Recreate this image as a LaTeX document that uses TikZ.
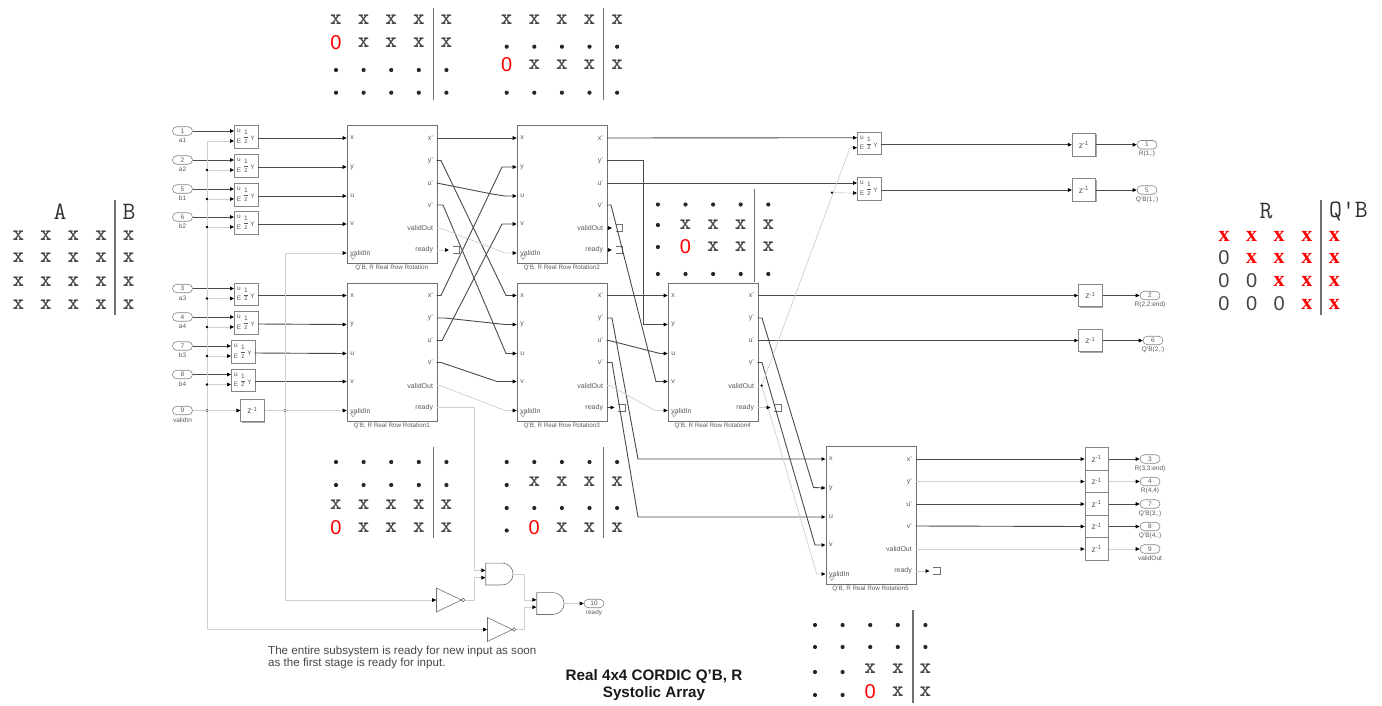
\documentclass[tikz,border=0pt]{standalone}
\usepackage{fontspec}
\setmainfont{Liberation Sans}
\setsansfont{Liberation Sans}
\newfontfamily\redxfont{Liberation Serif}
\usetikzlibrary{arrows.meta,shapes.gates.logic.US,shapes.misc,calc}
\definecolor{wiredark}{HTML}{4A4A4A}
\definecolor{wirelite}{HTML}{CFCFCF}
\definecolor{boxedge}{HTML}{707070}
\definecolor{labelgray}{HTML}{5A5A5A}
\definecolor{zerogray}{HTML}{444444}
\newcounter{cellno}
\tikzset{
  wire/.style={draw=wiredark,line width=.9pt},
  lite/.style={draw=wirelite,line width=.7pt},
  rotbox/.style={draw=boxedge,fill=white,line width=1.2pt,minimum width=90pt,minimum height=138pt,inner sep=0pt},
  smallbox/.style={draw=boxedge!85,fill=white,line width=.7pt,minimum width=23.5pt,minimum height=22.5pt,inner sep=0pt},
  boxshadow/.style={fill=black!35},
  portl/.style={font=\fontsize{7}{8}\selectfont,text=labelgray,inner sep=0pt,anchor=west},
  portr/.style={font=\fontsize{7}{8}\selectfont,text=labelgray,inner sep=0pt,anchor=east},
  caplab/.style={font=\fontsize{6.3}{7}\selectfont,text=labelgray,inner sep=0pt},
  tiny/.style={font=\fontsize{6.5}{7}\selectfont,text=labelgray,inner sep=0pt},
  pill/.style={rounded rectangle,draw=boxedge!85,fill=white,line width=.6pt,minimum width=20pt,minimum height=8.5pt,inner sep=0pt,font=\fontsize{6.5}{7}\selectfont,text=labelgray},
  jdot/.style={circle,fill=black,inner sep=0pt,minimum size=2.6pt},
  celldot/.style={circle,fill=black!85,inner sep=0pt,minimum size=4.2pt},
  mx/.style={inner sep=0pt,font=\fontsize{22}{22}\ttfamily\bfseries,text=black!72},
  hd/.style={inner sep=0pt,font=\fontsize{25}{25}\ttfamily,text=black!80},
  zr/.style={inner sep=0pt,font=\fontsize{20}{20}\selectfont,text=red},
  zg/.style={inner sep=0pt,font=\fontsize{20}{20}\selectfont,text=zerogray},
  rx/.style={inner sep=0pt,font=\fontsize{22}{22}\redxfont\bfseries,text=red},
  mline/.style={draw=boxedge,line width=1.1pt},
  gategate/.style={draw=boxedge,fill=white,line width=.6pt,inner sep=0pt},
  > = {Triangle[length=4pt,width=3.6pt,color=black]},
}
\newcommand\cellx[2]{\stepcounter{cellno}\node[mx] (c\arabic{cellno}) at (#1,#2) {x};}
\newcommand\cellr[2]{\stepcounter{cellno}\node[rx] (c\arabic{cellno}) at (#1,#2) {x};}
\newcommand\cello[2]{\stepcounter{cellno}\node[zr] (c\arabic{cellno}) at (#1,#2) {0};}
\newcommand\cellg[2]{\stepcounter{cellno}\node[zg] (c\arabic{cellno}) at (#1,#2) {0};}
\newcommand\celld[2]{\stepcounter{cellno}\node[celldot] (c\arabic{cellno}) at (#1,#2) {};}
\newcommand\cellD[2]{\stepcounter{cellno}\node[celldot] (c\arabic{cellno}) at (#1,#2+3) {};}
\newcommand\mrow[3]{\foreach \kind [count=\ci from 0] in {#3}{\csname cell\kind\endcsname{#1+27.6*\ci}{#2}}}
\newcommand\rotblock[4]{%
  \fill[boxshadow] (#2+1.2,#3+1.2) rectangle (#2+91.2,#3+139.2);
  \node[rotbox,anchor=north west] (#1) at (#2,#3) {};
  \foreach \n/\d in {x/13,y/42,u/71,v/99,validIn/128}{%
    \coordinate (#1-\n) at (#2,#3+\d);
    \node[portl] (#1-\n-lab) at (#2+3.5,#3+\d) {\n};}
  \foreach \n/\l/\d in {xo/x'/13,yo/y'/35.5,uo/u'/58,vo/v'/80,vd/validOut/103,rd/ready/125}{%
    \coordinate (#1-\n) at (#2+90,#3+\d);
    \node[portr] (#1-\n-lab) at (#2+86.5,#3+\d) {\l};}
  \draw[draw=wirelite!70!black,line width=.5pt] (#2+3.5,#3+130.5) -- (#2+9,#3+130.5) -- (#2+6.2,#3+134.5) -- cycle;
  \node[caplab] (#1-cap) at (#2+45,#3+143) {#4};}
\newcommand\accum[3]{%
  \fill[boxshadow] (#2+1,#3+1) rectangle (#2+24.5,#3+23.5);
  \node[smallbox,anchor=north west] (#1) at (#2,#3) {};
  \coordinate (#1-u) at (#2,#3+6);
  \coordinate (#1-E) at (#2,#3+16);
  \coordinate (#1-Y) at (#2+23.5,#3+13);
  \node[tiny] (#1-lu) at (#2+5,#3+6) {u};
  \node[tiny] (#1-lE) at (#2+5,#3+16) {E};
  \node[tiny] (#1-l1) at (#2+12,#3+7.5) {1};
  \node[tiny] (#1-lz) at (#2+12,#3+16.5) {z};
  \draw[draw=labelgray,line width=.4pt] (#2+10,#3+12.2) -- (#2+14,#3+12.2);
  \node[tiny] (#1-lY) at (#2+18.5,#3+13.5) {Y};}
\newcommand\pillnode[5]{%
  \node[pill] (#1) at (#2,#3) {#4};
  \node[tiny] (#1-lab) at (#2,#3+9.5) {#5};}
\newcommand\zbox[3]{%
  \fill[boxshadow] (#2-10.75,#3-10.25) rectangle (#2+12.75,#3+12.25);
  \node[smallbox,font=\fontsize{8.5}{9}\selectfont,text=labelgray] (#1) at (#2,#3) {z\textsuperscript{-1}};}
\newcommand\sink[3]{%
  \coordinate (#1) at (#2-3.5,#3);
  \draw[draw=boxedge,line width=.6pt] (#2,#3-3.5) -- (#2+7,#3-3.5) -- (#2+7,#3+3.5) -- (#2,#3+3.5);}
\begin{document}
\begin{tikzpicture}[x=1pt,y=-1pt]
\useasboundingbox (0,0) rectangle (1382,705);
% ---------- matrices
\mrow{336}{20}{x,x,x,x,x}
\mrow{336}{42.5}{o,x,x,x,x}
\mrow{336}{70}{d,d,d,d,d}
\mrow{336}{92.7}{d,d,d,d,d}
\draw[mline] (433.3,8) -- (433.3,100);
\mrow{506.7}{20}{x,x,x,x,x}
\mrow{506.7}{46.7}{d,d,d,d,d}
\mrow{506.7}{65}{o,x,x,x,x}
\mrow{506.7}{92.7}{d,d,d,d,d}
\draw[mline] (603.3,8) -- (603.3,100);
\mrow{657.9}{204.5}{d,d,d,d,d}
\mrow{657.9}{225}{d,x,x,x,x}
\mrow{657.9}{247}{d,o,x,x,x}
\mrow{657.9}{274}{d,d,d,d,d}
\draw[mline] (754.3,189) -- (754.3,282);
\mrow{336}{462}{d,d,d,d,d}
\mrow{336}{485}{d,d,d,d,d}
\mrow{336}{505}{x,x,x,x,x}
\mrow{336}{527.3}{o,x,x,x,x}
\draw[mline] (433.3,446.7) -- (433.3,538);
\mrow{506.7}{462}{d,d,d,d,d}
\mrow{506.7}{482}{D,x,x,x,x}
\mrow{506.7}{508}{d,d,d,d,d}
\mrow{506.7}{527.5}{D,o,x,x,x}
\draw[mline] (603.3,446.7) -- (603.3,538);
\mrow{815}{625}{d,d,d,d,d}
\mrow{815}{647}{d,d,d,d,d}
\mrow{815}{669}{D,D,x,x,x}
\mrow{815}{692}{D,D,o,x,x}
\draw[mline] (913,610) -- (913,703);
% A|B
\node[hd] (hA) at (60,211.5) {A};
\node[hd] (hB) at (129,211.5) {B};
\mrow{18.3}{235.7}{x,x,x,x,x}
\mrow{18.3}{257.7}{x,x,x,x,x}
\mrow{18.3}{281.7}{x,x,x,x,x}
\mrow{18.3}{304.3}{x,x,x,x,x}
\draw[mline] (115,200) -- (115,315);
% R|Q'B
\node[hd] (hR) at (1266,211.5) {R};
\node[hd] (hQ) at (1348.5,211.5) {Q'B};
\mrow{1224}{236}{r,r,r,r,r}
\mrow{1224}{258}{g,r,r,r,r}
\mrow{1224}{281}{g,g,r,r,r}
\mrow{1224}{304}{g,g,g,r,r}
\draw[mline] (1321,200) -- (1321,315);
% ---------- rotation blocks
\rotblock{r0}{346.7}{125}{Q'B, R Real Row Rotation}
\rotblock{r1}{346.7}{282.5}{Q'B, R Real Row Rotation1}
\rotblock{r2}{516.7}{125}{Q'B, R Real Row Rotation2}
\rotblock{r3}{516.7}{282.5}{Q'B, R Real Row Rotation3}
\rotblock{r4}{667.7}{282.5}{Q'B, R Real Row Rotation4}
\rotblock{r5}{825.5}{446}{Q'B, R Real Row Rotation5}
% ---------- input ports
\pillnode{p1}{182.5}{131}{1}{a1}
\pillnode{p2}{182.5}{160}{2}{a2}
\pillnode{p5}{182.5}{189}{5}{b1}
\pillnode{p6}{182.5}{217}{6}{b2}
\pillnode{p3}{182.5}{288.5}{3}{a3}
\pillnode{p4}{182.5}{317}{4}{a4}
\pillnode{p7}{182.5}{346}{7}{b3}
\pillnode{p8}{182.5}{374.5}{8}{b4}
\pillnode{p9}{182.5}{410.5}{9}{validIn}
% ---------- enabled registers
\accum{q1}{234}{125}
\accum{q2}{234}{154}
\accum{q3}{234}{183}
\accum{q4}{234}{211}
\accum{q5}{234}{282.5}
\accum{q6}{234}{311}
\accum{q7}{231}{340}
\accum{q8}{231}{368.5}
\accum{q9}{857}{131.7}
\accum{q10}{857}{177}
% ---------- delays
\zbox{z0}{252.5}{410.5}
\zbox{z1}{1084}{144.7}
\zbox{z2}{1084}{190}
\zbox{z3}{1090.4}{295.5}
\zbox{z4}{1090.4}{340.5}
\zbox{z5}{1096.7}{459}
\zbox{z6}{1096.7}{481.5}
\zbox{z7}{1096.7}{504}
\zbox{z8}{1096.7}{526.5}
\zbox{z9}{1096.7}{549}
% ---------- output ports
\pillnode{o1}{1147}{144.7}{1}{R(1,:)}
\pillnode{o5}{1147}{190}{5}{Q'B(1,:)}
\pillnode{o2}{1150}{295.5}{2}{R(2,2:end)}
\pillnode{o6}{1153}{340.5}{6}{Q'B(2,:)}
\pillnode{o3}{1150}{459}{3}{R(3,3:end)}
\pillnode{o4}{1150}{481.5}{4}{R(4,4)}
\pillnode{o7}{1150}{504}{7}{Q'B(3,:)}
\pillnode{o8}{1150}{526.5}{8}{Q'B(4,:)}
\pillnode{o9}{1150}{549}{9}{validOut}
\pillnode{o10}{594}{603.5}{10}{ready}
% ---------- terminators
\sink{s0}{452.5}{250}
\sink{s2a}{615.5}{228}
\sink{s2b}{615.5}{250}
\sink{s3}{618}{407.5}
\sink{s4}{774}{407.5}
\sink{s5}{933}{571}
% ---------- gates
\node[and gate US,logic gate inputs=nn,gategate,minimum width=23.5pt,minimum height=21.5pt,logic gate input sep=7.3pt] (and1) at (498.5,574) {};
\node[and gate US,logic gate inputs=nn,gategate,minimum width=23.5pt,minimum height=21.5pt,logic gate input sep=7.3pt] (and2) at (549.5,603.5) {};
\node[not gate US,gategate,minimum width=18pt,minimum height=20.5pt,logic gate inverted radius=1.8pt] (inv1) at (445,600) {};
\node[not gate US,gategate,minimum width=18pt,minimum height=20.5pt,logic gate inverted radius=1.8pt] (inv2) at (496,629.5) {};
% ---------- input wires
\foreach \p/\q in {p1/q1,p2/q2,p5/q3,p6/q4,p3/q5,p4/q6,p7/q7,p8/q8}{\draw[wire,->] (\p.east) -- (\q-u);}
\foreach \q/\n in {q1/x,q2/y,q3/u,q4/v}{\draw[wire,->] (\q-Y) -- (r0-\n);}
\foreach \q/\n in {q5/x,q6/y,q7/u,q8/v}{\draw[wire,->] (\q-Y) -- (r1-\n);}
% valid bus
\coordinate (bus) at (207,141);
\draw[lite,<->] (q1-E) -- (bus) -- (bus |- inv2.input) -- (inv2.input);
\foreach \q in {q2,q3,q4,q5,q6,q7,q8}{%
  \node[jdot] (j\q) at (bus |- \q-E) {};
  \draw[lite,->] (j\q) -- (\q-E);}
\node[jdot] (jp9) at (bus |- p9) {};
\draw[lite,->] (p9.east) -- (z0.west);
\node[jdot] (jz0) at (285,410.5) {};
\draw[lite,->] (z0.east) -- (r1-validIn);
\draw[lite,->] (jz0) |- (r0-validIn);
\draw[lite,->] (jz0) |- (inv1.input);
% r0 outputs
\draw[wire,->] (r0-xo) -- (r2-x);
\draw[wire,->] (r0-yo) -- (441,160.5) -- (506,295.5) -- (r3-x);
\draw[wire,->] (r0-uo) -- (492,194) -- (505,196) -- (r2-u);
\draw[wire,->] (r0-vo) -- (443,205) -- (506,353.5) -- (r3-u);
\draw[lite,->] (r0-vd) -- (440,228) -- (505,253) -- (r2-validIn);
\draw[lite,->] (r0-rd) -- (s0);
% r1 outputs
\draw[wire,->] (r1-xo) -- (441,295.5) -- (502,167) -- (r2-y);
\draw[wire,->] (r1-yo) -- (445,318) -- (505,324.5) -- (r3-y);
\draw[wire,->] (r1-uo) -- (442,340.5) -- (502,224) -- (r2-v);
\draw[wire,->] (r1-vo) -- (441,362.5) -- (497,381.5) -- (r3-v);
\draw[lite,->] (r1-vd) -- (440,385.5) -- (505,410.5) -- (r3-validIn);
\draw[lite,->] (r1-rd) -- (474,407.5) |- (and1.input 1);
% r2 outputs
\draw[wire,->] (r2-xo) -- (q9-u);
\draw[wire,->] (r2-uo) -- (q10-u);
\draw[wire,->] (r2-yo) -- (643,160.5) |- (r4-y);
\draw[wire,->] (r2-vo) -- (611,205) -- (656,381.5) -- (r4-v);
\draw[wire,->] (r2-vd) -- (s2a);
\draw[wire,->] (r2-rd) -- (s2b);
% r3 outputs
\draw[wire,->] (r3-xo) -- (r4-x);
\draw[wire,->] (r3-uo) -- (609,340.5) -- (660,353.5) -- (r4-u);
\draw[wire,->] (r3-yo) -- (612,318) -- (638,459) -- (r5-x);
\draw[wire,->] (r3-vo) -- (612,362.5) -- (638,517) -- (r5-u);
\draw[lite,->] (r3-vd) -- (610,385.5) -- (655,410.5) -- (r4-validIn);
\draw[wire,->] (r3-rd) -- (s3);
% r4 outputs
\draw[wire,->] (r4-xo) -- (z3.west);
\draw[wire,->] (r4-uo) -- (z4.west);
\draw[wire,->] (r4-yo) -- (762,318) -- (813.5,487.5) -- (r5-y);
\draw[wire,->] (r4-vo) -- (762,362.5) -- (815,545) -- (r5-v);
\node[jdot] (jvd) at (761.7,385.5) {};
\node[jdot] (jq) at (832,192.7) {};
\draw[lite] (r4-vd) -- (jvd);
\draw[lite,->] (jvd) -- (850,147.7) -- (q9-E);
\draw[lite,->] (jq) -- (q10-E);
\draw[lite,->] (jvd) -- (816.7,574) -- (r5-validIn);
\draw[lite,->] (r4-rd) -- (s4);
% r5 outputs
\draw[wire,->] (r5-xo) -- (z5.west);
\draw[lite,->] (r5-yo) -- (z6.west);
\draw[wire,->] (r5-uo) -- (z7.west);
\draw[wire,->] (r5-vo) -- (z8.west);
\draw[lite,->] (r5-vd) -- (z9.west);
\draw[lite,->] (r5-rd) -- (s5);
% registers to delays to outports
\draw[wire,->] (q9-Y) -- (z1.west);
\draw[wire,->] (q10-Y) -- (z2.west);
\draw[wire,->] (z1.east) -- (o1.west);
\draw[wire,->] (z2.east) -- (o5.west);
\draw[wire,->] (z3.east) -- (o2.west);
\draw[wire,->] (z4.east) -- (o6.west);
\draw[wire,->] (z5.east) -- (o3.west);
\draw[lite,->] (z6.east) -- (o4.west);
\draw[wire,->] (z7.east) -- (o7.west);
\draw[wire,->] (z8.east) -- (o8.west);
\draw[lite,->] (z9.east) -- (o9.west);
% gates
\draw[lite,->] (inv1.output) -- (474,600) |- (and1.input 2);
\draw[lite,->] (and1.output) -- (524.3,574) |- (and2.input 1);
\draw[lite,->] (inv2.output) -- (524.3,629.5) |- (and2.input 2);
\draw[lite,->] (and2.output) -- (o10.west);
% ---------- texts
\node[inner sep=0pt,anchor=west,align=left,text=black!72,font=\fontsize{11.6}{12}\selectfont] (note) at (268,657) {The entire subsystem is ready for new input as soon\\as the first stage is ready for input.};
\node[inner sep=0pt,align=center,text=black!90,font=\fontsize{15.2}{16.5}\selectfont\bfseries] (title) at (654,685) {Real 4x4 CORDIC Q'B, R\\Systolic Array};
\end{tikzpicture}
\end{document}
